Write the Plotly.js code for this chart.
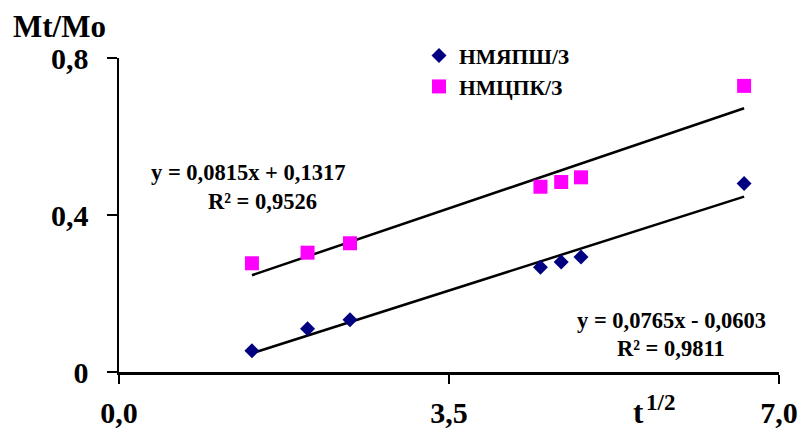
<!DOCTYPE html>
<html>
<head>
<meta charset="utf-8">
<script src="https://cdn.plot.ly/plotly-3.0.1.min.js"></script>
<style>html,body{margin:0;padding:0;background:#fff;}#chart{width:801px;height:432px;}</style>
</head>
<body>
<div id="chart"></div>
<script>
// Data
const seriesNames = ['НМЯПШ/З', 'НМЦПК/З'];
const xValues = [1.41, 2.00, 2.45, 4.47, 4.69, 4.90, 6.63];
const yBlue = [0.054, 0.110, 0.133, 0.267, 0.280, 0.293, 0.480];
const yPink = [0.277, 0.304, 0.328, 0.472, 0.484, 0.496, 0.729];
// Trendline coefficients as printed on the chart
const trendBlue = {slope: 0.0765, intercept: -0.0603};
const trendPink = {slope: 0.0815, intercept: 0.1317};
const xTickVals = [0, 3.5, 7];
const xTickText = ['0,0', '3,5', '7,0'];
const yTickVals = [0, 0.4, 0.8];
const yTickText = ['0', '0,4', '0,8'];

const FONT = 'Liberation Serif, Times New Roman, serif';
const xMin = Math.min(...xValues), xMax = Math.max(...xValues);
function line(t) { return [t.slope * xMin + t.intercept, t.slope * xMax + t.intercept]; }
function f(size) { return {family: FONT, size: size, color: '#000', weight: 'bold'}; }
function px(x) { return (x - 119) / 660; }
function py(y) { return (372 - y) / 314; }

const traces = [
  {x: [xMin, xMax], y: line(trendPink), mode: 'lines', line: {color: '#000', width: 2.5}, showlegend: false, hoverinfo: 'skip'},
  {x: [xMin, xMax], y: line(trendBlue), mode: 'lines', line: {color: '#000', width: 2.5}, showlegend: false, hoverinfo: 'skip'},
  {x: xValues, y: yBlue, name: seriesNames[0], mode: 'markers', type: 'scatter',
   marker: {symbol: 'diamond', size: 11.5, color: '#000080'}},
  {x: xValues, y: yPink, name: seriesNames[1], mode: 'markers', type: 'scatter',
   marker: {symbol: 'square', size: 14, color: '#FF00FF'}}
];

const layout = {
  width: 801, height: 432,
  margin: {l: 119, r: 22, t: 58, b: 60},
  paper_bgcolor: '#fff', plot_bgcolor: '#fff',
  font: {family: FONT, color: '#000', weight: 'bold'},
  showlegend: true,
  legend: {x: px(419), xanchor: 'left', y: py(35), yanchor: 'top', bgcolor: 'rgba(0,0,0,0)',
           font: f(21.5), tracegroupgap: 0},
  xaxis: {range: [0, 7], tickvals: xTickVals, ticktext: xTickText, ticks: 'outside', ticklen: 9,
          tickwidth: 1.5, tickcolor: '#000', showgrid: false, zeroline: false, showline: true,
          linecolor: '#000', linewidth: 2.5, ticklabelstandoff: 3, tickfont: f(30)},
  yaxis: {range: [0, 0.8], tickvals: yTickVals, ticktext: yTickText, ticks: 'outside', ticklen: 10,
          tickwidth: 1.5, tickcolor: '#000', showgrid: false, zeroline: false, showline: true,
          linecolor: '#000', linewidth: 2.5, ticklabelstandoff: 12, tickfont: f(30)},
  annotations: [
    {text: 'Mt/Mo', xref: 'paper', yref: 'paper', x: px(60), y: py(27), xanchor: 'center', yanchor: 'middle',
     showarrow: false, font: f(31)},
    {text: 't', xref: 'paper', yref: 'paper', x: px(638), y: py(412), xanchor: 'center', yanchor: 'middle',
     showarrow: false, font: f(31)},
    {text: '1/2', xref: 'paper', yref: 'paper', x: px(660), y: py(402), xanchor: 'center', yanchor: 'middle',
     showarrow: false, font: f(23)},
    {text: 'y = 0,0815x + 0,1317', xref: 'paper', yref: 'paper', x: px(248), y: py(172),
     xanchor: 'center', yanchor: 'middle', showarrow: false, font: f(22.5)},
    {text: 'R² = 0,9526', xref: 'paper', yref: 'paper', x: px(262), y: py(201),
     xanchor: 'center', yanchor: 'middle', showarrow: false, font: f(22.5)},
    {text: 'y = 0,0765x - 0,0603', xref: 'paper', yref: 'paper', x: px(671), y: py(320),
     xanchor: 'center', yanchor: 'middle', showarrow: false, font: f(22.5)},
    {text: 'R² = 0,9811', xref: 'paper', yref: 'paper', x: px(671), y: py(348),
     xanchor: 'center', yanchor: 'middle', showarrow: false, font: f(22.5)}
  ]
};

Plotly.newPlot('chart', traces, layout, {displayModeBar: false, staticPlot: true});
</script>
</body>
</html>
